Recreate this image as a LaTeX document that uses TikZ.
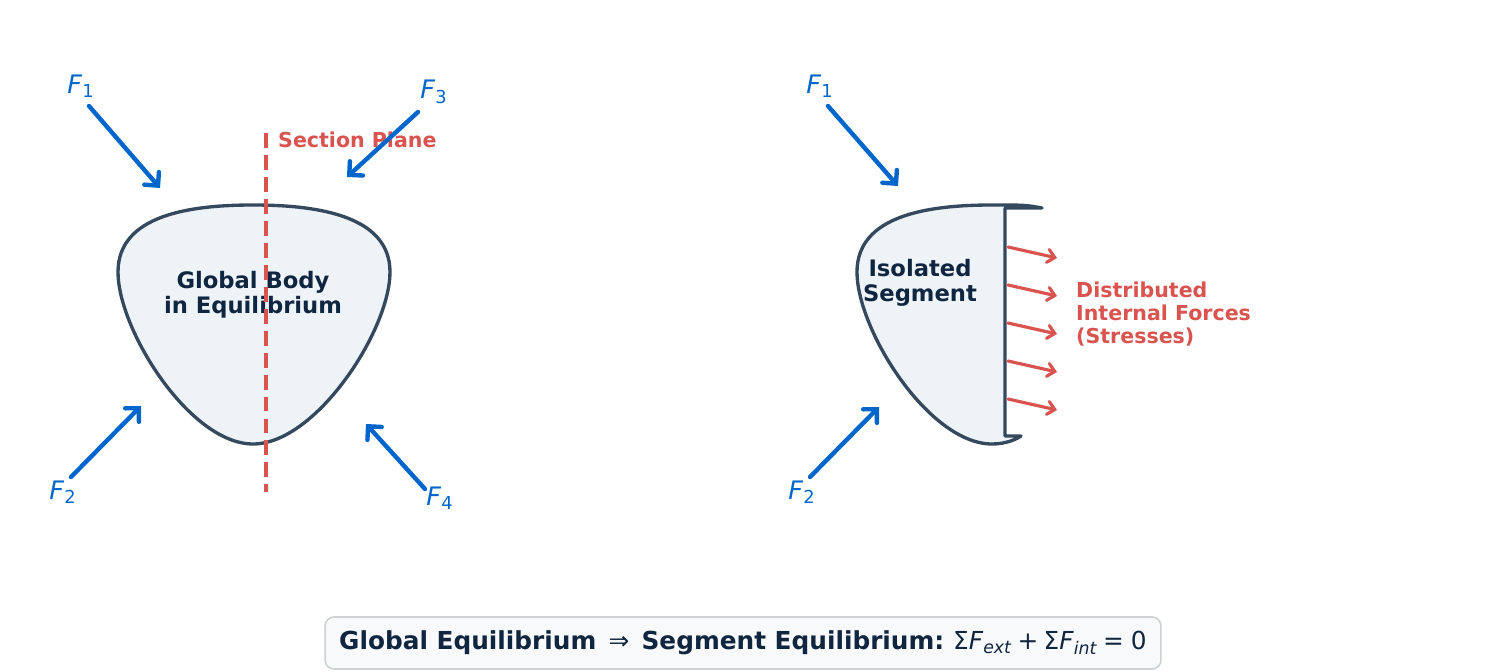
\documentclass[tikz,border=0pt]{standalone}
\usepackage{fontspec}
\setmainfont{DejaVu Sans}
\usepackage{tikz}
\usetikzlibrary{arrows.meta}
\definecolor{forceblue}{RGB}{0,102,204}
\definecolor{cutred}{RGB}{217,83,79}
\definecolor{bodyedge}{RGB}{52,73,94}
\definecolor{bodyfill}{RGB}{238,243,248}
\definecolor{labelnavy}{RGB}{16,38,64}
\definecolor{boxfill}{RGB}{248,249,250}
\definecolor{boxedge}{RGB}{206,208,211}

\begin{document}
\begin{tikzpicture}[
    x=0.02cm, y=-0.02cm,
    body/.style={draw=bodyedge, fill=bodyfill, line width=1.9pt, line join=round},
    force/.style={draw=forceblue, line width=2.5pt, line cap=round,
        -{Straight Barb[length=5.5pt, width=11pt, line cap=round]}},
    stress/.style={draw=cutred, line width=1.8pt, line cap=round,
        -{Straight Barb[length=4pt, width=7.5pt, line cap=round]}},
    flabel/.style={text=forceblue, font=\fontsize{14.5}{16}\selectfont, inner sep=0pt},
    bodytext/.style={text=labelnavy, font=\fontsize{12.9}{14.2}\selectfont\bfseries, align=center},
    redtext/.style={text=cutred, font=\fontsize{11.7}{13.3}\selectfont\bfseries}
]
\useasboundingbox (0,0) rectangle (1485,672);

% Global body
\draw[body] (253,205) .. controls (190,205) and (118,215) .. (118,272)
    .. controls (118,330) and (190,444) .. (253,444)
    .. controls (316,444) and (390,330) .. (390,272)
    .. controls (390,215) and (316,205) .. (253,205) -- cycle;
\node[bodytext] (global) at (253,295) {Global Body\\in Equilibrium};

% Section plane
\coordinate (cuttop) at (266,133);
\coordinate (cutbot) at (266,492);
\draw[cutred, line width=1.9pt, dash pattern=on 8.5pt off 4pt] (cuttop) -- (cutbot);
\node[redtext, anchor=west] (plane) at (272,140) {Section Plane};

% External forces, left
\foreach \n/\sx/\sy/\ex/\ey/\lx/\ly/\i in {
    a/89/106/160/188/81/86/1,
    b/71/477/141/406/63/492/2,
    c/418/112/347/177/434/92/3,
    d/425/489/366/424/440/498/4} {
    \coordinate (\n s) at (\sx,\sy);
    \coordinate (\n e) at (\ex,\ey);
    \draw[force] (\n s) -- (\n e);
    \node[flabel] (\n l) at (\lx,\ly) {\textit{F}\textsubscript{\i}};
}

% Isolated segment
\draw[body] (1042,208) .. controls (1025,205) .. (992,205)
    .. controls (929,205) and (857,215) .. (857,272)
    .. controls (857,330) and (929,444) .. (992,444)
    .. controls (1005,444) and (1015,440) .. (1021,436)
    -- (1005,436) -- (1005,208) -- cycle;
\node[bodytext] (segment) at (920,283) {Isolated\\Segment};

% External forces, right
\foreach \n/\sx/\sy/\ex/\ey/\lx/\ly/\i in {
    e/828/106/898/186/820/86/1,
    f/810/477/879/407/802/492/2} {
    \coordinate (\n s) at (\sx,\sy);
    \coordinate (\n e) at (\ex,\ey);
    \draw[force] (\n s) -- (\n e);
    \node[flabel] (\n l) at (\lx,\ly) {\textit{F}\textsubscript{\i}};
}

% Internal stresses
\foreach \k/\y in {1/247, 2/285, 3/323, 4/361, 5/399} {
    \coordinate (s\k) at (1008,\y);
    \coordinate (t\k) at (1057,\y+11);
    \draw[stress] (s\k) -- (t\k);
}
\node[redtext, anchor=west, align=left] (stresses) at (1070,314)
    {Distributed\\Internal Forces\\(Stresses)};

% Summary
\node[draw=boxedge, fill=boxfill, line width=0.9pt, rounded corners=5pt,
    minimum width=16.72cm, minimum height=1.04cm, text=labelnavy,
    font=\fontsize{14.1}{16}\selectfont] (summary) at (743,643)
    {\textbf{Global Equilibrium}\hspace{7pt}⇒\hspace{7pt}\textbf{Segment Equilibrium:}\hspace{5pt}Σ\textit{F}\textsubscript{\textit{ext}}\hspace{3pt}+\hspace{3pt}Σ\textit{F}\textsubscript{\textit{int}}\hspace{3pt}=\hspace{4pt}0};

\end{tikzpicture}
\end{document}
